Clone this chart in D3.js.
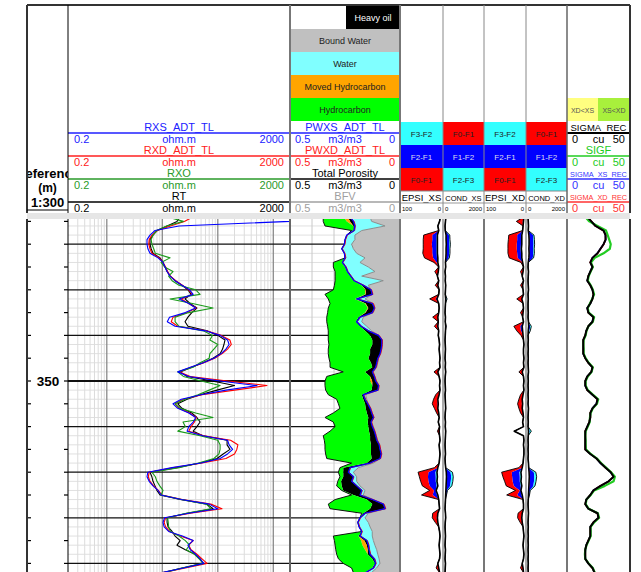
<!DOCTYPE html>
<html><head><meta charset="utf-8">
<script src="https://cdn.jsdelivr.net/npm/d3@7"></script>
<style>body{margin:0;background:#fff;}svg{display:block;}</style>
</head><body>
<script>
// ---------------- DATA ----------------
const depth = [314,315,316,317,318,319,320,321,322,323,324,325,326,327,328,329,330,331,332,333,334,335,336,337,338,339,340,341,342,343,344,345,346,347,348,349,350,351,352,353,354,355,356,357,358,359,360,361,362,363,364,365,366,367,368,369,370,371,372,373,374,375,376,377,378,379,380,381,382,383,384,385,386,387,388,389,390,391,392];
const depthTicks = [315,320,325,330,335,340,345,350,355,360,365,370,375,380,385,390];
const depthLabels = [350];

// Resistivity (ohm.m)
const RT = [21,18.4,12.2,8.0,6.8,6.0,6.0,6.3,6.8,9.1,
 10.3,11.2,12.2,13.8,17,22.6,29,33,25.7,31.6,
 42,34,29,25.7,29,64,100,135,129,122,
 110,82,54,34,21,28,80,200,97,48,
 28,19,22.6,34,42,48,42,36,54,147,
 147,166,125,97,48,18.4,6.0,6.5,6.8,7.4,
 8.0,9.1,21,64,82,28,12.2,12.2,12.7,15,
 17,21,18.4,26,39,48,54,22.6,10.3];
const RXS_ADT_TL = [2000,2000,20,7.4,6.0,5.3,5.3,5.5,6.0,8.4,
 10.3,11.2,12.2,13.8,17,22.6,31,36,20,30,
 40,26,13.5,12.3,17,60,110,150,160,140,
 115,85,55,32,19,30,110,508,140,50,
 22,15.6,19,30,40,36,30,28,54,150,
 160,185,150,110,50,15,5.5,5.3,5.8,6.8,
 8.4,9.5,22,70,100,30,11,10.3,10.8,13,
 23,36,29,32,40,48,56,24,10];
const RXD_ADT_TL = [36,25,14,8.2,6.5,5.8,5.7,6.0,6.5,8.8,
 10.3,11.5,12.5,14,17.5,23,30,35,22,30,
 41,28,15.6,14.5,19,62,115,165,175,150,
 120,88,56,33,20,32,150,770,200,52,
 24,17,20,31,41,38,33,30,56,170,
 230,220,200,140,52,16,5.8,5.6,6.0,7.0,
 8.5,9.8,23,75,119,32,11.5,10.8,11.5,13.5,
 21,36,30,33,42,52,64,26,10.5];
const RXO = [12.2,24,12,8.0,6.8,6.3,6.5,7.0,7.5,13.8,
 9.5,11,15.6,13,15,20,40,48,13.8,35,
 82,30,17,17,20,55,80,72,100,85,
 72,70,48,36,19,24,50,110,70,44,
 26,17,21,40,82,23.6,26,19,48,100,
 110,110,105,85,45,20,6.5,7.5,8.0,9.0,
 10.3,9.5,22,62,75,27,12.5,12.8,13,14,
 20,26,31,27,38,46,55,23,11];

// Porosity (m3/m3)
const TOTAL_POROSITY = [.349,.349,.341,.220,.242,.250,.253,.265,.253,.250,
 .303,.303,.295,.295,.295,.298,.303,.341,.326,.318,
 .326,.329,.333,.333,.329,.326,.326,.326,.323,.326,
 .326,.323,.318,.318,.258,.333,.341,.341,.338,.326,
 .288,.280,.273,.303,.341,.303,.295,.318,.349,.344,
 .341,.341,.338,.333,.220,.273,.280,.273,.283,.288,
 .265,.220,.295,.326,.318,.174,.182,.192,.186,.174,
 .303,.298,.295,.292,.288,.280,.258,.220,.212];
const HYDROCARBON_EDGE = [.258,.242,.212,.212,.242,.250,.253,.265,.253,.250,
 .265,.250,.242,.227,.212,.174,.159,.159,.205,.159,
 .147,.159,.189,.201,.182,.159,.136,.126,.126,.136,
 .136,.144,.132,.126,.159,.136,.136,.126,.129,.174,
 .167,.159,.156,.151,.144,.147,.144,.141,.136,.136,
 .132,.132,.132,.129,.151,.258,.258,.258,.268,.265,
 .258,.212,.151,.126,.136,.167,.182,.192,.186,.174,
 .189,.177,.171,.159,.147,.126,.114,.126,.159];
const MOVED_HC_EDGE = [.238,.227,.212,.212,.242,.250,.253,.265,.253,.250,
 .265,.250,.242,.227,.212,.174,.156,.156,.201,.156,
 .144,.156,.189,.201,.182,.159,.136,.126,.126,.136,
 .136,.144,.132,.126,.159,.136,.126,.126,.129,.174,
 .167,.159,.156,.151,.144,.147,.144,.141,.136,.136,
 .132,.132,.132,.129,.151,.258,.258,.258,.268,.265,
 .258,.212,.151,.126,.136,.167,.182,.192,.186,.174,
 .189,.162,.151,.147,.147,.126,.114,.126,.159];
const PWXS_ADT_TL = [.227,.212,.205,.209,.242,.250,.253,.265,.253,.250,
 .262,.247,.239,.224,.209,.167,.132,.126,.197,.126,
 .117,.126,.182,.197,.177,.144,.098,.083,.083,.086,
 .091,.101,.106,.111,.126,.117,.111,.098,.101,.167,
 .159,.147,.136,.129,.121,.132,.126,.117,.111,.106,
 .095,.091,.086,.091,.136,.227,.235,.212,.220,.197,
 .174,.182,.126,.076,.068,.159,.182,.192,.186,.174,
 .182,.151,.144,.141,.136,.117,.111,.121,.156];
const PWXD_ADT_TL = [.232,.208,.203,.206,.239,.247,.250,.262,.250,.246,
 .259,.244,.236,.221,.206,.164,.129,.123,.192,.121,
 .114,.123,.179,.194,.174,.141,.095,.080,.080,.083,
 .088,.098,.103,.108,.123,.114,.108,.095,.098,.164,
 .156,.144,.133,.126,.118,.129,.123,.114,.108,.103,
 .092,.088,.083,.088,.133,.224,.232,.209,.217,.194,
 .171,.179,.123,.073,.065,.156,.179,.189,.183,.171,
 .179,.148,.141,.138,.133,.114,.108,.118,.153];
const BFV = [.136,.129,.068,.174,.205,.205,.220,.212,.197,.159,
 .182,.144,.114,.174,.076,.144,.132,.126,.159,.121,
 .114,.121,.167,.174,.151,.129,.095,.080,.080,.083,
 .088,.098,.101,.106,.121,.114,.106,.095,.098,.156,
 .151,.144,.132,.126,.118,.129,.121,.114,.108,.101,
 .092,.088,.083,.088,.121,.189,.212,.197,.197,.182,
 .159,.167,.121,.071,.065,.144,.159,.144,.136,.126,
 .126,.121,.114,.106,.101,.095,.091,.106,.129];

// Dielectric permittivity (F3 curve) and stacked frequency differences
const EPSI_XS = [6,8,12,10,13,13,13,13,13,12, 12,10,11,13,10,12,9,10,14,10, 9,10,12,11,12,10,11,9,8,9, 8,7,8,7,12,9,7,8,7,9, 12,11,12,10,9,11,8,9,8,7, 9,8,7,8,9,12,14,13,14,12, 16,12,10,9,8,12,13,12,10,8, 7,8,9,8,7,8,12,10,8];
const EPSI_XS_F3F2 = [0,0,0,0,2,2,2,2,2,2, 1,0,0,0,0,0,0,0,0,0, 0,0,0,0,0,0,0,0,0,0, 0,0,0,0,0,0,0,0,0,0, 0,0,0,0,0,0,0,0,0,0, 0,0,0,0,0,0,4,4,3,3, 1,2,0,0,0,0,0,0,0,0, 0,0,0,0,0,0,0,0,0];
const EPSI_XS_F2F1 = [0,0,0,0,10,10,11,10,10,9, 2,0,0,0,0,0,0,0,3,0, 0,0,0,0,2,0,0,0,0,0, 0,0,0,0,0,0,0,0,0,0, 0,2,0,0,0,0,0,0,0,0, 0,0,0,0,0,0,16,18,17,16, 4,10,0,0,0,0,2,0,0,0, 0,0,0,0,0,0,0,0,0];
const EPSI_XS_F0F1 = [0,0,0,0,20,21,20,21,22,20, 6,0,8,0,0,6,0,0,14,0, 0,0,12,0,6,0,0,0,0,0, 0,0,0,0,9,0,0,0,0,8, 10,12,8,5,0,0,0,4,0,0, 0,0,0,0,0,8,24,20,18,17, 10,26,0,0,0,12,10,6,0,0, 0,0,0,0,0,0,0,6,0];
const EPSI_XD = [5,6,7,8,10,10,10,11,10,10, 8,6,7,9,6,8,7,6,10,7, 6,7,8,6,9,8,7,6,5,6, 6,5,6,5,9,6,5,6,5,7, 9,8,9,7,6,8,6,28,6,5, 6,5,5,6,7,9,12,11,12,10, 12,9,7,6,6,9,10,9,7,6, 5,6,7,6,5,6,9,7,6];
const EPSI_XD_F3F2 = [0,0,0,0,2,2,2,2,2,2, 0,0,0,0,0,0,0,0,0,0, 0,0,0,0,1,1,0,0,0,0, 0,0,0,0,0,0,0,0,0,0, 0,0,0,0,0,0,0,0,0,0, 0,0,0,0,0,0,4,4,3,3, 0,2,0,0,0,0,0,0,0,0, 0,0,0,0,0,0,0,0,0];
const EPSI_XD_F2F1 = [0,2,0,0,9,9,10,9,9,8, 0,0,0,0,0,0,0,0,0,0, 0,0,0,0,4,3,0,0,0,0, 0,0,0,0,0,0,0,0,0,0, 0,2,0,0,0,0,0,0,0,0, 0,0,0,0,0,0,18,18,17,16, 3,10,0,0,0,0,2,0,0,0, 0,0,0,0,0,0,0,0,0];
const EPSI_XD_F0F1 = [0,15,0,0,20,21,21,21,22,20, 4,0,6,0,0,5,0,0,12,0, 0,6,0,0,15,10,5,0,0,0, 0,0,0,0,8,0,0,0,0,6, 8,10,8,6,0,0,0,0,0,0, 0,0,0,0,0,8,24,22,19,18, 10,25,0,0,0,10,8,5,0,0, 0,0,0,0,0,0,0,6,0];

// Conductivity (F0 curve) and stacked frequency differences
const COND_XS = [140,120,100,110,150,150,160,150,150,140, 120,130,100,120,110,130,120,110,130,120, 110,100,120,110,130,120,110,100,110,120, 110,100,120,110,130,110,100,110,120,100, 110,120,130,110,100,120,110,130,120,110, 100,110,120,100,110,130,160,170,160,150, 140,130,120,110,100,120,130,110,100,110, 120,110,100,120,110,100,120,110,100];
const COND_XS_F0F1 = [0,0,0,0,20,20,20,20,20,20, 0,0,0,0,0,0,0,0,0,0, 0,0,0,0,0,0,0,0,0,0, 0,0,0,0,0,0,0,0,0,0, 0,0,0,0,0,0,0,0,0,0, 0,0,0,0,0,0,30,30,30,30, 0,0,0,0,0,0,0,0,0,0, 0,0,0,0,0,0,0,0,0];
const COND_XS_F1F2 = [0,0,0,0,120,130,140,130,130,120, 0,0,0,0,0,0,0,0,40,0, 0,0,0,0,30,0,0,0,0,0, 0,0,0,0,0,0,0,0,0,0, 0,0,0,0,0,0,0,0,0,0, 0,0,0,0,0,0,180,200,190,170, 60,40,0,0,0,0,0,0,0,0, 0,0,0,0,0,0,0,0,0];
const COND_XS_F2F3 = [0,0,0,0,40,40,40,40,40,30, 0,0,0,0,0,0,0,0,30,0, 0,0,0,0,0,0,0,0,0,0, 0,0,0,0,0,0,0,0,0,0, 0,0,0,0,0,0,0,0,0,0, 0,0,0,0,0,0,90,100,100,80, 20,0,0,0,0,0,0,0,0,0, 0,0,0,0,0,0,0,0,0];
const COND_XD = [100,110,120,110,140,150,150,140,150,140, 110,100,120,110,100,110,120,100,110,100, 100,110,100,120,130,110,100,110,100,110, 100,110,100,110,120,100,110,100,110,100, 110,100,120,110,100,110,100,120,110,100, 110,100,110,100,120,130,150,160,150,140, 130,120,110,100,110,120,110,100,110,100, 110,100,110,100,110,100,110,100,110];
const COND_XD_F0F1 = [0,0,0,0,20,20,20,20,20,20, 0,0,0,0,0,0,0,0,0,0, 0,0,0,0,0,0,0,0,0,0, 0,0,0,0,0,0,0,0,0,0, 0,0,0,0,0,0,0,0,0,0, 0,0,0,0,0,0,30,30,30,30, 0,0,0,0,0,0,0,0,0,0, 0,0,0,0,0,0,0,0,0];
const COND_XD_F1F2 = [0,0,0,0,180,190,200,190,190,170, 0,0,0,0,0,0,0,0,0,0, 0,0,0,0,80,60,0,0,0,0, 0,0,0,0,0,0,0,0,0,0, 0,0,0,0,0,0,0,60,0,0, 0,0,0,0,0,0,200,220,210,190, 60,50,0,0,0,0,0,0,0,0, 0,0,0,0,0,0,0,0,0];
const COND_XD_F2F3 = [0,0,0,0,50,50,50,50,50,40, 0,0,0,0,0,0,0,0,0,0, 0,0,0,0,50,40,0,0,0,0, 0,0,0,0,0,0,0,0,0,0, 0,0,0,0,0,0,0,80,0,0, 0,0,0,0,0,0,100,110,100,80, 20,0,0,0,0,0,0,0,0,0, 0,0,0,0,0,0,0,0,0];

// Sigma (cu)
const SIGMA_REC = [16.1,19.3,22.6,29,30.6,30.6,29,26.6,24.2,20.2, 18.5,20.2,18.5,16.9,16.1,18.5,20.2,21,20.2,18.5, 16.1,16.9,21,20.2,16.9,15.3,14.5,12.9,12.9,12.9, 12.9,14.5,16.9,20.2,19.3,16.1,14.5,14.5,16.1,20.2, 24.2,23.4,20.2,18.5,18.5,17.7,16.1,14.5,14.5,14.5, 14.5,14.5,18.5,23.4,26.6,30.6,34.7,37,33,26.6, 21,18.5,15.3,14.5,16.9,24.2,25,21,18.5,18.5, 18.5,16.9,15.3,14.5,14.5,14.5,16.9,20.2,21.8];
const SIGF = [14.5,17.7,24.2,31,32.3,33.5,34.7,34,29,22, 19,20.5,18.8,17.2,16.5,18.8,20.5,21.5,20,18.2, 16.5,17.2,21.5,20.5,17,15.5,14.8,13.2,13,13.2, 13.2,14.8,17.2,20.5,19.5,16.5,14.8,14.8,16.5,20.5, 24.8,23.8,20.5,18.8,18.2,18,16.5,14.8,14.5,14.8, 14.8,15,18.8,23.8,27,31,35,38,37,30, 21.5,18.8,15.5,14.8,17.2,24.5,25.5,21.5,18.8,18.8, 18.8,17.2,15.5,14.5,14.2,14.5,17.2,20.5,22];
const SIGMA_XS_REC = [16,19,22.8,29.2,30.4,30.8,29.1,26.5,24,20.1, 18.6,20,18.4,17,16,18.6,20.1,21.2,20,18.6, 16,17,21.1,20,17,15.2,14.6,13,12.8,13, 12.8,14.6,17,20,19.4,16,14.6,14.4,16.2,20, 24.4,23.2,20.1,18.6,18.4,17.8,16,14.6,14.4,14.6, 14.4,14.6,18.4,23.6,26.4,30.8,34.5,37.2,32.8,26.8, 20.8,18.6,15.2,14.6,16.8,24.4,24.8,21.2,18.4,18.6, 18.4,17,15.2,14.6,14.4,14.6,16.8,20.4,21.6];
const SIGMA_XD_REC = [16.2,19.4,22.5,28.8,30.7,30.5,29.2,26.7,24.3,20.3, 18.4,20.3,18.6,16.8,16.2,18.4,20.3,20.9,20.3,18.4, 16.2,16.8,20.9,20.3,16.8,15.4,14.4,12.8,13,12.8, 13,14.4,16.8,20.3,19.2,16.2,14.4,14.6,16,20.3, 24,23.5,20.3,18.4,18.6,17.6,16.2,14.4,14.6,14.4, 14.6,14.4,18.6,23.2,26.8,30.4,34.9,36.8,33.2,26.4, 21.2,18.4,15.4,14.4,17,24,25.2,20.8,18.6,18.4, 18.6,16.8,15.4,14.4,14.6,14.4,17,20,22];

// Header texts
const resNames = ['RXS_ADT_TL','RXD_ADT_TL','RXO','RT'];
const resScaleTxt = ['0.2','ohm.m','2000'];
const porNames = ['PWXS_ADT_TL','PWXD_ADT_TL','Total Porosity','BFV'];
const porScaleTxt = ['0.5','m3/m3','0'];
const porLegend = ['Bound Water','Water','Moved Hydrocarbon','Hydrocarbon'];
const sigNames = ['SIGMA_REC','SIGF','SIGMA_XS_REC','SIGMA_XD_REC'];
const sigScaleTxt = ['0','cu','50'];
const epsiRows = ['F3-F2','F2-F1','F0-F1'];
const condRows = ['F0-F1','F1-F2','F2-F3'];
const dielTracks = ['EPSI_XS','COND_XS','EPSI_XD','COND_XD'];

// ---------------- LAYOUT / STYLE ----------------
const W = 641, H = 572;
const XL = 27, XDEP = 68, XRES = 290, XPOR = 400, XEXS = 443, XCXS = 484, XEXD = 526, XCXD = 567, XR = 630;
const HT = 5, HB = 213, DT = 219, DB = 572;
const FONT = '"Liberation Sans", Arial, sans-serif';
const BLUE = '#0000ff', RED = '#ff0000', GREEN = '#1a9a1a', SGREEN = '#22cc22';

const svg = d3.select('body').append('svg').attr('width', W).attr('height', H).style('font-family', FONT);
svg.append('rect').attr('width', W).attr('height', H).attr('fill', '#fff');

// Scales
const y = d3.scaleLinear().domain([310, 400]).range([381 - 40 * 4.56, 381 + 50 * 4.56]);
const xRes = d3.scaleLog().domain([0.2, 2000]).range([XDEP, XRES]).clamp(true);
const xPor = d3.scaleLinear().domain([0.5, 0]).range([XRES, XPOR]);
const xEXS = d3.scaleLinear().domain([100, 0]).range([XPOR, XEXS]);
const xCXS = d3.scaleLinear().domain([0, 2000]).range([XEXS, XCXS]);
const xEXD = d3.scaleLinear().domain([100, 0]).range([XCXS, XEXD]);
const xCXD = d3.scaleLinear().domain([0, 2000]).range([XEXD, XCXD]);
const xSig = d3.scaleLinear().domain([0, 50]).range([XCXD, XR]);

const defs = svg.append('defs');
defs.append('clipPath').attr('id', 'dclip').append('rect').attr('x', XL).attr('y', DT).attr('width', XR - XL).attr('height', DB - DT);
defs.append('clipPath').attr('id', 'depclip').append('rect').attr('x', XL + 1).attr('y', HT).attr('width', XDEP - XL - 1).attr('height', HB - HT);

function line(g, x1, y1, x2, y2, c, w) {
  return g.append('line').attr('x1', x1).attr('y1', y1).attr('x2', x2).attr('y2', y2).attr('stroke', c).attr('stroke-width', w);
}
function text(g, x, yy, s, size, color, anchor = 'middle', weight = 'normal') {
  return g.append('text').attr('x', x).attr('y', yy).attr('font-size', size).attr('fill', color)
    .attr('text-anchor', anchor).attr('font-weight', weight).text(s);
}

// ---------------- DATA AREA ----------------
const g = svg.append('g').attr('clip-path', 'url(#dclip)');

// Horizontal grid (minor every 2 m, major every 10 m)
y.ticks(45).forEach(d => { if (d % 10 !== 0) line(g, XDEP, y(d), XPOR, y(d), '#e0e0e0', 1); });
// Resistivity vertical grid
xRes.ticks().forEach(v => {
  const lg = Math.log10(v);
  const major = Math.abs(lg - Math.round(lg)) < 1e-6;
  if (v <= 0.2 || v >= 2000) return;
  line(g, xRes(v), DT, xRes(v), DB, major ? '#8a8a8a' : '#dcdcdc', major ? 1.3 : 1);
});
// Porosity vertical grid
xPor.ticks(5).forEach(v => { if (v > 0 && v < 0.5) line(g, xPor(v), DT, xPor(v), DB, '#c8c8c8', 1); });
y.ticks(9).forEach(d => line(g, XDEP, y(d), XPOR, y(d), '#111', d % 50 === 0 ? 2.2 : 1.2));

// Area / curve helpers
function area(xs, a, b, color) {
  g.append('path').datum(depth).attr('fill', color).attr('stroke', 'none')
    .attr('d', d3.area().y(d => y(d)).x0((d, i) => xs(a(i))).x1((d, i) => xs(b(i))));
}
function curve(xs, f, color, w) {
  g.append('path').datum(depth).attr('fill', 'none').attr('stroke', color).attr('stroke-width', w)
    .attr('stroke-linejoin', 'round').attr('d', d3.line().y(d => y(d)).x((d, i) => xs(f(i))));
}

// Porosity fills
area(xPor, i => BFV[i], i => 0, '#c0c0c0');
area(xPor, i => PWXS_ADT_TL[i], i => BFV[i], '#80ffff');
area(xPor, i => MOVED_HC_EDGE[i], i => PWXS_ADT_TL[i], '#000000');
area(xPor, i => HYDROCARBON_EDGE[i], i => MOVED_HC_EDGE[i], '#ffa500');
area(xPor, i => TOTAL_POROSITY[i], i => HYDROCARBON_EDGE[i], '#00ff00');
curve(xPor, i => BFV[i], '#8c8c8c', 1);
curve(xPor, i => TOTAL_POROSITY[i], '#111', 1);
curve(xPor, i => PWXD_ADT_TL[i], RED, 1);
curve(xPor, i => PWXS_ADT_TL[i], BLUE, 1.2);

// Resistivity curves
curve(xRes, i => RT[i], '#000', 1.1);
curve(xRes, i => RXD_ADT_TL[i], RED, 1.1);
curve(xRes, i => RXO[i], GREEN, 1.1);
curve(xRes, i => RXS_ADT_TL[i], BLUE, 1.1);

// Dielectric tracks (stacked)
function dielTrack(xs, base, s1, s2, s3, colors) {
  const rows = depth.map((d, i) => ({ a: base[i], b: s1[i], c: s2[i], e: s3[i] }));
  const st = d3.stack().keys(['a', 'b', 'c', 'e'])(rows);
  [1, 2, 3].forEach((k, j) => area(xs, i => st[k][i][0], i => st[k][i][1], colors[j]));
  curve(xs, i => st[3][i][1], '#000', 0.9);
  curve(xs, i => st[0][i][1], '#000', 1.6);
}
dielTrack(xEXS, EPSI_XS, EPSI_XS_F3F2, EPSI_XS_F2F1, EPSI_XS_F0F1, ['#33ffff', BLUE, RED]);
dielTrack(xCXS, COND_XS, COND_XS_F0F1, COND_XS_F1F2, COND_XS_F2F3, [RED, BLUE, '#33ffff']);
dielTrack(xEXD, EPSI_XD, EPSI_XD_F3F2, EPSI_XD_F2F1, EPSI_XD_F0F1, ['#33ffff', BLUE, RED]);
dielTrack(xCXD, COND_XD, COND_XD_F0F1, COND_XD_F1F2, COND_XD_F2F3, [RED, BLUE, '#33ffff']);

// Sigma curves
curve(xSig, i => SIGMA_XS_REC[i], BLUE, 1.5);
curve(xSig, i => SIGMA_XD_REC[i], RED, 1.5);
curve(xSig, i => SIGF[i], SGREEN, 2.2);
curve(xSig, i => SIGMA_REC[i], '#000', 2);

// Depth ticks & labels
depthTicks.forEach(d => {
  line(g, XL, y(d), XL + 4, y(d), '#000', 1.2);
  line(g, XDEP - 4, y(d), XDEP, y(d), '#000', 1.2);
});
depthLabels.forEach(d => text(g, 48, y(d) + 5, String(d), 13.5, '#000', 'middle', 'bold'));

// Data-area track borders
const borders = [[XL, '#333', 2], [XDEP, '#000', 1], [XRES, '#666', 2], [XPOR, '#777', 2], [XEXS, '#aaa', 2], [XCXS, '#777', 2], [XEXD, '#aaa', 2], [XCXD, '#777', 2], [XR, '#333', 2]];
borders.forEach(b => line(svg, b[0], DT, b[0], DB, b[1], b[2]));

// ---------------- HEADER ----------------
const h = svg.append('g');
const ROW = 23, R0 = 121;

// Depth header
const dg = h.append('g').attr('clip-path', 'url(#depclip)');
text(dg, 47.5, 178, 'Reference', 13, '#000', 'middle', 'bold');
text(dg, 47.5, 192, '(m)', 12, '#000', 'middle', 'bold');
text(dg, 47.5, 207, '1:300', 13, '#000', 'middle', 'bold');

// Curve legends helper
function legend(names, colors, sizes, scaleTxt, x0, x1, pad, scaleSize, lineW) {
  const cx = (x0 + x1) / 2;
  names.forEach((n, i) => {
    const top = R0 + ROW * i;
    text(h, cx, top + 10, n, sizes[i], colors[i]);
    line(h, x0, top + 12, x1, top + 12, colors[i], lineW[i]);
    text(h, x0 + pad, top + 21.5, scaleTxt[0], scaleSize, colors[i], 'start');
    text(h, cx, top + 21.5, scaleTxt[1], scaleSize, colors[i]);
    text(h, x1 - pad, top + 21.5, scaleTxt[2], scaleSize, colors[i], 'end');
  });
}
legend(resNames, ['#2020ff', '#ff2020', '#2a9a2a', '#000'], [11, 11, 11, 11], resScaleTxt, XDEP, XRES, 6, 11, [1.5, 1.5, 1.5, 1.5]);

// Porosity legend boxes
h.append('rect').attr('x', 346).attr('y', 6).attr('width', XPOR - 346).attr('height', ROW).attr('fill', '#000');
text(h, (346 + XPOR) / 2, 6 + 15, 'Heavy oil', 9, '#fff');
const porCols = ['#c0c0c0', '#80ffff', '#ffa500', '#00ff00'];
porLegend.forEach((n, i) => {
  const top = 6 + ROW * (i + 1);
  h.append('rect').attr('x', XRES).attr('y', top).attr('width', XPOR - XRES).attr('height', ROW).attr('fill', porCols[i]);
  text(h, (XRES + XPOR) / 2, top + 15, n, 9, '#222');
});
legend(porNames, ['#2020ff', '#ff2020', '#000', '#a0a0a0'], [11, 11, 11, 11], porScaleTxt, XRES, XPOR, 5, 11, [1.5, 1.5, 1.5, 1.5]);

// Dielectric header
const dcols = [[XPOR, XEXS], [XEXS, XCXS], [XCXS, XEXD], [XEXD, XCXD]];
dcols.forEach((c, k) => {
  const isE = k % 2 === 0;
  const labels = isE ? epsiRows : condRows;
  const fills = isE ? ['#33ffff', '#0000ff', '#ff0000'] : ['#ff0000', '#0000ff', '#33ffff'];
  labels.forEach((s, r) => {
    const top = R0 + 1 + ROW * r;
    h.append('rect').attr('x', c[0]).attr('y', top).attr('width', c[1] - c[0]).attr('height', ROW).attr('fill', fills[r]);
    text(h, (c[0] + c[1]) / 2, top + 15, s, 8, fills[r] === '#0000ff' ? '#dde' : '#222');
  });
  const ly = R0 + 1 + ROW * 3;
  line(h, c[0], ly, c[1], ly, '#888', 1);
  text(h, (c[0] + c[1]) / 2, ly + 10, dielTracks[k], isE ? 9.5 : 7.5, '#000');
  line(h, c[0], ly + 12, c[1], ly + 12, '#999', 1);
  text(h, c[0] + 2, ly + 19.5, isE ? '100' : '0', 6, '#000', 'start');
  text(h, c[1] - 2, ly + 19.5, isE ? '0' : '2000', 6, '#000', 'end');
});

// Sigma header
h.append('rect').attr('x', XCXD).attr('y', R0 - ROW).attr('width', 31).attr('height', ROW).attr('fill', '#ffff80');
h.append('rect').attr('x', XCXD + 31).attr('y', R0 - ROW).attr('width', XR - XCXD - 31).attr('height', ROW).attr('fill', '#a8f03c');
text(h, XCXD + 15.5, R0 - 8, 'XD<XS', 7, '#555');
text(h, XCXD + 31 + (XR - XCXD - 31) / 2, R0 - 8, 'XS<XD', 7, '#555');
legend(sigNames, ['#000', SGREEN, '#3333ff', '#ff3333'], [9.5, 11, 7.3, 7.3], sigScaleTxt, XCXD, XR, 5, 11, [2, 1.5, 1.5, 1.5]);

// Gap band between header and data
svg.append('rect').attr('x', XL).attr('y', HB).attr('width', XR - XL).attr('height', DT - HB).attr('fill', '#e6e6e6');

// Header borders
line(svg, XL, HT, XR, HT, '#333', 2);
[[XL, '#333', 2], [XDEP, '#000', 1], [XRES, '#777', 2], [XPOR, '#777', 2], [XEXS, '#888', 1], [XCXS, '#888', 1], [XEXD, '#888', 1], [XCXD, '#666', 1.5], [XR, '#333', 2]]
  .forEach(b => line(svg, b[0], HT, b[0], HB, b[1], b[2]));
line(svg, XL, HB - 3, XDEP, HB - 3, '#000', 1);
</script>
</body></html>
